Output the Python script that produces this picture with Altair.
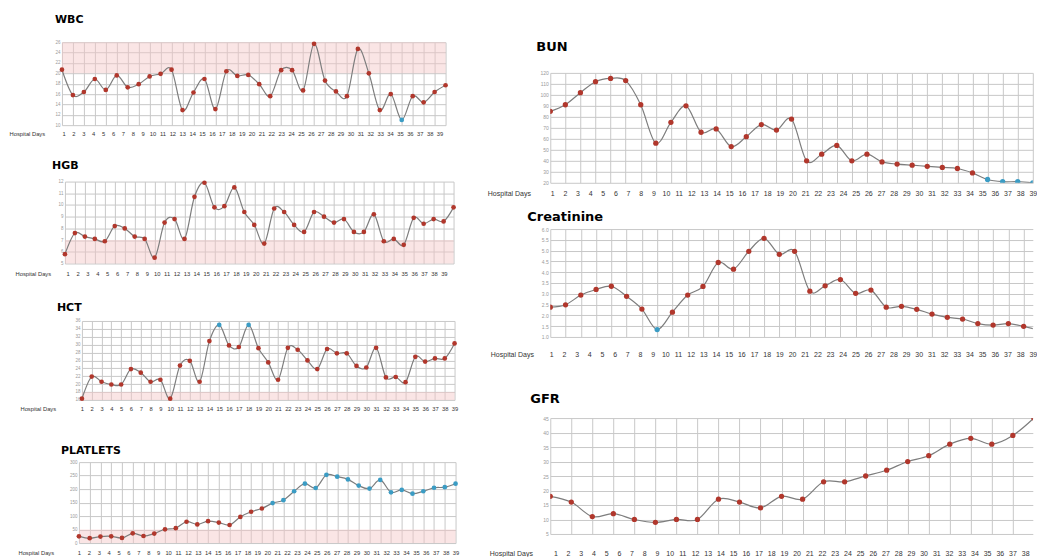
import altair as alt
import pandas as pd

DAYS = list(range(1, 40))

# ---- data ----
WBC = [20.7, 15.8, 16.4, 18.9, 16.8, 19.6, 17.3, 17.9, 19.4, 19.9, 20.7, 12.9,
       16.3, 18.9, 13.1, 20.4, 19.5, 19.7, 17.9, 15.6, 20.6, 20.6, 16.7, 25.7,
       18.6, 16.5, 15.6, 24.7, 20.0, 12.9, 16.0, 11.0, 15.6, 14.4, 16.4, 17.7]
WBC_BLUE = [31]
WBC_TICKS = [10, 12, 14, 16, 18, 20, 22, 24, 26]
WBC_BAND = [20, 26]

HGB = [5.8, 7.6, 7.3, 7.1, 6.9, 8.2, 8.0, 7.3, 7.1, 5.5, 8.5, 8.8, 7.1, 10.7,
       11.9, 9.8, 9.9, 11.5, 9.4, 8.3, 6.7, 9.7, 9.4, 8.3, 7.7, 9.4, 9.0, 8.5,
       8.8, 7.7, 7.7, 9.2, 6.9, 7.1, 6.6, 8.9, 8.4, 8.8, 8.6, 9.8]
HGB_BLUE = []
HGB_TICKS = [5, 6, 7, 8, 9, 10, 11, 12]
HGB_BAND = [5, 7]

HCT = [16.3, 21.9, 20.6, 19.9, 19.9, 23.8, 22.9, 20.6, 21.1, 16.3, 24.7, 25.9,
       20.6, 30.9, 35.0, 29.8, 29.4, 35.0, 29.1, 25.5, 21.1, 29.2, 28.7, 26.0,
       23.8, 28.9, 27.8, 27.8, 24.6, 24.2, 29.2, 21.7, 21.8, 20.5, 26.9, 25.7,
       26.5, 26.5, 30.3]
HCT_BLUE = [14, 17]
HCT_TICKS = [16, 18, 20, 22, 24, 26, 28, 30, 32, 34, 36]
HCT_BAND = [16, 18]

PLATELETS = [25, 18, 24, 25, 19, 36, 26, 35, 51, 55, 79, 69, 81, 76, 67, 97,
             116, 128, 148, 159, 192, 220, 204, 253, 246, 236, 213, 202, 234,
             188, 197, 183, 192, 205, 207, 220]
PLATELETS_BLUE = list(range(18, 36))
PLATELETS_TICKS = [0, 50, 100, 150, 200, 250, 300]
PLATELETS_BAND = [0, 50]

BUN = [85, 91, 102, 112, 115, 113, 91, 56, 75, 90, 66, 69, 53, 62, 73, 68, 78,
       40, 46, 54, 40, 46, 39, 37, 36, 35, 34, 33, 29, 23, 21, 21, 20]
BUN_BLUE = [29, 30, 31, 32]
BUN_TICKS = [20, 30, 40, 50, 60, 70, 80, 90, 100, 110, 120]

CREAT = [2.38, 2.49, 2.94, 3.2, 3.35, 2.88, 2.29, 1.34, 2.15, 2.94, 3.34, 4.45,
         4.14, 4.97, 5.57, 4.83, 4.97, 3.12, 3.37, 3.66, 3.02, 3.17, 2.38, 2.42,
         2.28, 2.06, 1.91, 1.83, 1.62, 1.55, 1.62, 1.49, 1.32]
CREAT_BLUE = [7]
CREAT_TICKS = [1.0, 1.5, 2.0, 2.5, 3.0, 3.5, 4.0, 4.5, 5.0, 5.5, 6.0]

GFR = [18, 16, 11, 12, 10, 9, 10, 10, 17, 16, 14, 18, 17, 23, 23, 25, 27, 30,
       32, 36, 38, 36, 39, 45]
GFR_BLUE = []
GFR_TICKS = [5, 10, 15, 20, 25, 30, 35, 40, 45]

RED = "#b1372c"
BLUE = "#3b9cc4"
GRID = "#c8c8c8"
LINE = "#7d7d7d"
BAND = "#f5c6c6"


def panel(title, values, blue, ticks, band, fmt, x_max, lab_dom, lab_vals,
          width, height, tsize, toff, tdx, hd_x, lab_pad, lab_size,
          ylab_size, pt_size, clip):
    n = len(values)
    df = pd.DataFrame({
        "i": list(range(n)),
        "v": values,
        "c": ["blue" if k in blue else "red" for k in range(n)],
    })
    xs = alt.Scale(domain=[0, x_max], nice=False, zero=False)
    ys = alt.Scale(domain=[ticks[0], ticks[-1]], nice=False, zero=False)
    grid_vals = [k for k in range(n) if k <= x_max]
    x_ax = alt.Axis(values=grid_vals, grid=True, labels=False, ticks=False,
                    domain=False, title=None, gridColor=GRID, orient="bottom")
    y_ax = alt.Axis(values=ticks, grid=True, ticks=False, domain=False,
                    title=None, labelFontSize=ylab_size, labelColor="#9a9a9a",
                    labelPadding=2, format=fmt, gridColor=GRID)
    x = alt.X("i:Q", scale=xs, axis=x_ax)
    y = alt.Y("v:Q", scale=ys, axis=y_ax)
    base = alt.Chart(df)
    line = base.mark_line(interpolate="cardinal", color=LINE, strokeWidth=1.2,
                          clip=clip).encode(x=x, y=y)
    pts = base.mark_circle(size=pt_size, opacity=1, clip=clip).encode(
        x=x, y=y,
        color=alt.Color("c:N", scale=alt.Scale(domain=["red", "blue"],
                                               range=[RED, BLUE]), legend=None))
    layers = []
    if band:
        bdf = pd.DataFrame({"lo": [band[0]], "hi": [band[1]], "a": [0], "b": [x_max]})
        rect = alt.Chart(bdf).mark_rect(color=BAND, opacity=0.45).encode(
            x=alt.X("a:Q", scale=xs, axis=x_ax), x2="b:Q",
            y=alt.Y("lo:Q", scale=ys, axis=y_ax), y2="hi:Q")
        layers.append(rect)
    layers += [line, pts]
    inner = alt.layer(*layers)

    ldf = pd.DataFrame({"d": DAYS})
    lab = alt.Chart(ldf).mark_point(opacity=0, clip=True).encode(
        x=alt.X("d:Q", scale=alt.Scale(domain=lab_dom, nice=False, zero=False),
                axis=alt.Axis(values=lab_vals, orient="bottom", grid=False,
                              ticks=False, domain=False, labelFontSize=lab_size,
                              labelColor="#333", labelPadding=lab_pad,
                              labelFlush=False, labelOverlap=False,
                              title="Hospital Days", titleX=hd_x, titleY=lab_pad,
                              titleAlign="left", titleBaseline="top",
                              titleFontSize=lab_size, titleFontWeight="normal",
                              titleColor="#333")))
    return alt.layer(inner, lab).resolve_scale(x="independent").properties(
        width=width, height=height,
        title=alt.TitleParams(text=title, anchor="start", frame="group",
                              fontSize=tsize, font="DejaVu Sans",
                              fontWeight="bold", color="black", offset=toff,
                              dx=tdx))


def spacer(w, h):
    # empty view (no data rows) used only to offset a panel
    return alt.Chart(pd.DataFrame({"z": []})).mark_point().encode(
        x=alt.value(0), y=alt.value(0)).properties(width=w, height=h)


def row(w, chart):
    return alt.hconcat(spacer(w, 1), chart, spacing=0)


def stack(a, b, gap):
    return alt.concat(a, b, columns=1, spacing=gap)


L = dict(lab_size=5.8, ylab_size=4.5, pt_size=22, tsize=11, clip=False)
R = dict(lab_size=7, ylab_size=5, pt_size=28, tsize=13, clip=True)

wbc = panel("WBC", WBC, WBC_BLUE, WBC_TICKS, WBC_BAND, "d", len(WBC) - 1,
            [0.84, 39.61], DAYS, 384, 83, toff=14, tdx=-7, hd_x=-53,
            lab_pad=5, **L)
hgb = panel("HGB", HGB, HGB_BLUE, HGB_TICKS, HGB_BAND, "d", len(HGB) - 1,
            [0.73, 39.98], DAYS, 389, 82, toff=8, tdx=-13, hd_x=-50,
            lab_pad=7, **L)
hct = panel("HCT", HCT, HCT_BLUE, HCT_TICKS, HCT_BAND, "d", len(HCT) - 1,
            [1, 39], DAYS, 373, 79, toff=4.5, tdx=-25, hd_x=-62,
            lab_pad=6, **L)
plt = panel("PLATLETS", PLATELETS, PLATELETS_BLUE, PLATELETS_TICKS,
            PLATELETS_BAND, "d", len(PLATELETS) - 1, [1, 39], DAYS, 377, 81,
            toff=3.5, tdx=-18, hd_x=-61, lab_pad=6.3, **L)

bun = panel("BUN", BUN, BUN_BLUE, BUN_TICKS, None, "d", 32, [0.85, 39.0],
            DAYS, 483, 110, toff=17.3, tdx=-14, hd_x=-63, lab_pad=6.8, **R)
cre = panel("Creatinine", CREAT, CREAT_BLUE, CREAT_TICKS, None, ".1f", 31.6,
            [0.92, 39.0], DAYS, 483, 108, toff=3, tdx=-23, hd_x=-60,
            lab_pad=13.5, **R)
gfr = panel("GFR", GFR, GFR_BLUE, GFR_TICKS, None, "d", 22.95, [0.6, 38.6],
            DAYS[:38], 483, 116, toff=10.5, tdx=-20, hd_x=-61, lab_pad=15.5, **R)

left = stack(spacer(1, 1),
             stack(stack(stack(row(1, wbc), row(7, hgb), 23.5),
                         row(12, hct), 25),
                   row(10, plt), 32.3),
             13)
right = stack(spacer(1, 1),
              stack(stack(bun, cre, 14.3), gfr, 34.5),
              38.7)

chart = alt.hconcat(left, right, spacing=27.8).properties(
    padding={"left": 8, "top": 0, "right": 0, "bottom": 0},
    background="white",
).configure_view(stroke=None).configure_axis(
    labelFont="Liberation Sans", titleFont="Liberation Sans")

chart.save("out.html", embed_options={"renderer": "svg", "actions": False})
